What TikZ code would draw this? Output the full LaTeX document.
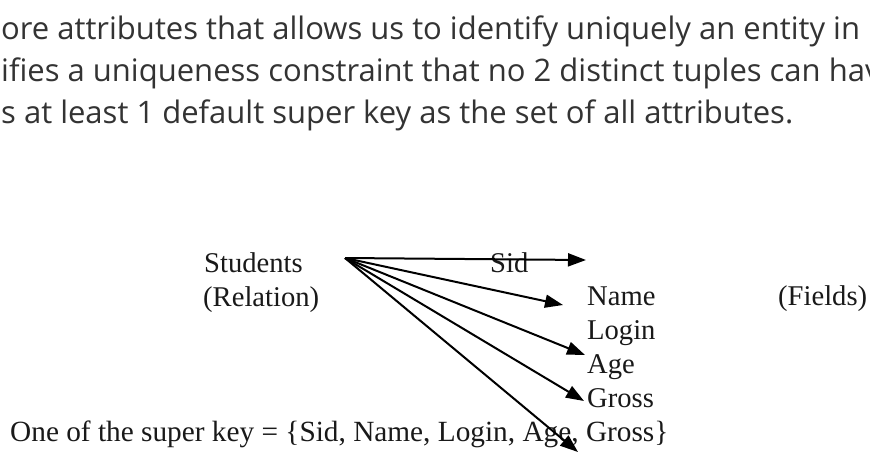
\documentclass[tikz,border=0pt]{standalone}
\usepackage{fontspec}
\setmainfont{Liberation Serif}
\newfontfamily\topfont{Open Sans}
\usetikzlibrary{arrows.meta}
\begin{document}
\begin{tikzpicture}[x=1pt,y=-1pt,
  toptext/.style={anchor=base west,inner sep=0pt,font=\topfont\fontsize{31}{36}\selectfont,text=black!80},
  lbl/.style={anchor=base west,inner sep=0pt,font=\fontsize{28.6}{32}\selectfont,text=black!90},
  arr/.style={line width=2pt,-{Triangle[length=18pt,width=13pt]}}]
\useasboundingbox (0,0) rectangle (870,472);
\clip (0,0) rectangle (870,472);
\fill[white] (0,0) rectangle (870,472);
\node[toptext] (t1) at (1,39) {ore attributes that allows us to identify uniquely an entity in};
\node[toptext] (t2) at (1,81) {ifies a uniqueness constraint that no 2 distinct tuples can hav};
\node[toptext] (t3) at (1,123) {s at least 1 default super key as the set of all attributes.};
\node[lbl] (students) at (204,272) {Students};
\node[lbl] (relation) at (203,306) {(Relation)};
\node[lbl] (sid) at (490,272) {Sid};
\node[lbl] (name) at (587,305) {Name};
\node[lbl] (login) at (587,339) {Login};
\node[lbl] (age) at (587,373) {Age};
\node[lbl] (gross) at (587,407) {Gross};
\node[lbl] (fields) at (778,305) {(Fields)};
\node[lbl,font=\fontsize{29.3}{33}\selectfont] (superkey) at (10,441) {One of the super key = \{Sid, Name, Login, Age, Gross\}};
\coordinate (src) at (345,258);
\coordinate (e1) at (586,260);
\coordinate (e2) at (563,305);
\coordinate (e3) at (585,355);
\coordinate (e4) at (584,401);
\coordinate (e5) at (578,452);
\foreach \e in {e1,e2,e3,e4,e5} \draw[arr] (src) -- (\e);
\end{tikzpicture}
\end{document}
